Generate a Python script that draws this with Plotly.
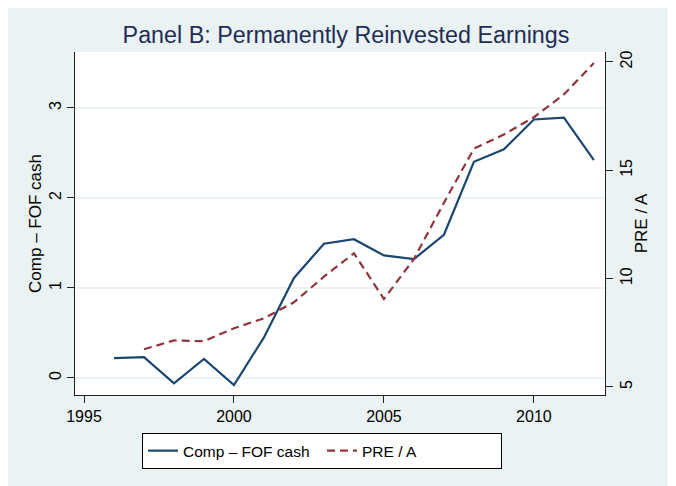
import plotly.graph_objects as go

# values
years_cash = list(range(1996, 2013))
comp_fof_cash = [0.22, 0.23, -0.06, 0.21, -0.08, 0.45, 1.11, 1.49, 1.54,
                 1.36, 1.32, 1.59, 2.40, 2.54, 2.87, 2.89, 2.42]

years_pre = list(range(1997, 2013))
pre_over_a = [6.74, 7.15, 7.11, 7.71, 8.17, 8.91, 10.09, 11.17, 9.06,
              10.91, 13.5, 16.0, 16.65, 17.45, 18.5, 19.95]

x_ticks = [1995, 2000, 2005, 2010]
left_ticks = [0, 1, 2, 3]
right_ticks = [5, 10, 15, 20]

BG = "#eaf2f3"
NAVY = "#1a476f"
MAROON = "#90353b"
FONT = "Liberation Sans, Arial, sans-serif"

fig = go.Figure()
fig.add_trace(go.Scatter(
    x=years_cash, y=comp_fof_cash, mode="lines",
    name="Comp \u2013 FOF cash",
    line=dict(color=NAVY, width=2.2),
))
fig.add_trace(go.Scatter(
    x=years_pre, y=pre_over_a, mode="lines",
    name="PRE / A", yaxis="y2",
    line=dict(color=MAROON, width=2.2, dash="8px,5px"),
))

axis_common = dict(
    showline=True, linecolor="#222", linewidth=1,
    ticks="outside", ticklen=7, tickcolor="#222",
    tickfont=dict(size=16, color="black"),
    zeroline=False,
)

fig.update_layout(
    width=676, height=486,
    paper_bgcolor=BG, plot_bgcolor="white",
    font=dict(family=FONT, color="black"),
    margin=dict(l=67, r=79, t=44, b=99),
    title=dict(text="Panel B: Permanently Reinvested Earnings",
               x=0.5, xanchor="center", y=0.944, yanchor="middle",
               font=dict(size=23.3, color="#1f2d56")),
    xaxis=dict(range=[1994.7, 2012.37], tickvals=x_ticks,
               showgrid=False, **axis_common),
    yaxis=dict(range=[-0.19, 3.62], tickvals=left_ticks, tickangle=-90,
               showgrid=True, gridcolor=BG, gridwidth=1.5,
               title=dict(text="Comp \u2013 FOF cash", font=dict(size=17),
                          standoff=0),
               **axis_common),
    yaxis2=dict(range=[4.63, 20.46], tickvals=right_ticks, tickangle=-90,
                overlaying="y", side="right", showgrid=False,
                title=dict(text="PRE / A", font=dict(size=17), standoff=0),
                **axis_common),
    showlegend=True,
    legend=dict(orientation="h", x=0.466, xanchor="center",
                y=-0.111, yanchor="top", entrywidth=134,
                bgcolor="white", bordercolor="black", borderwidth=1,
                font=dict(size=15.5, color="black")),
)

fig.write_html("out.html")
